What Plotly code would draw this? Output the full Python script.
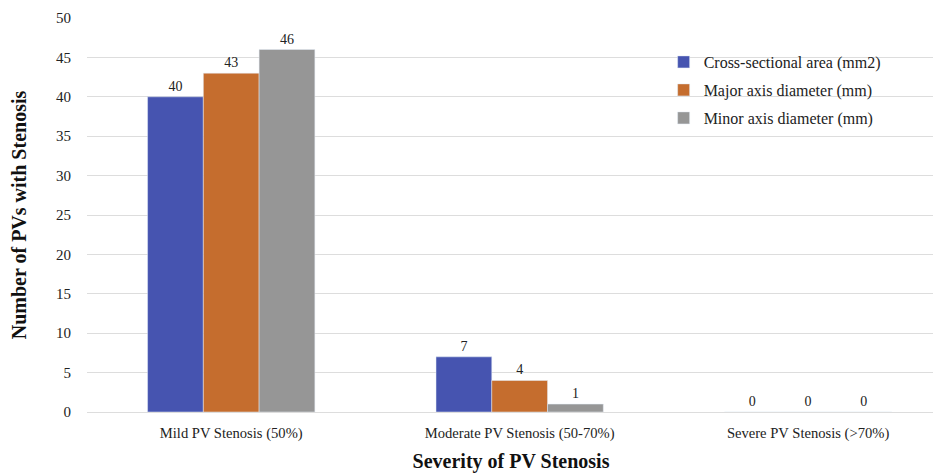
import plotly.graph_objects as go

categories = ["Mild PV Stenosis (50%)", "Moderate PV Stenosis (50-70%)", "Severe PV Stenosis (>70%)"]
series_names = ["Cross-sectional area (mm2)", "Major axis diameter (mm)", "Minor axis diameter (mm)"]
cross_sectional = [40, 7, 0]
major_axis = [43, 4, 0]
minor_axis = [46, 1, 0]
y_ticks = [0, 5, 10, 15, 20, 25, 30, 35, 40, 45, 50]

colors = ["#4654B0", "#C56D2E", "#969696"]
serif = "Liberation Serif, Times New Roman, serif"

fig = go.Figure()
legend_ids = ["legend", "legend2", "legend3"]
for name, vals, col, lg in zip(series_names, [cross_sectional, major_axis, minor_axis], colors, legend_ids):
    fig.add_trace(go.Bar(
        x=categories, y=vals, name=name, marker_color=col,
        text=[str(v) for v in vals], textposition="outside",
        textfont=dict(family=serif, size=14, color="#222"),
        cliponaxis=False, legend=lg, showlegend=True,
    ))

# page has 8px body margin; figure sized so plot area lands like the reference
W, H = 933, 467
L, R, T, B = 79, 6, 10, 63
ph = H - T - B

leg_common = dict(font=dict(family=serif, size=16, color="#222"), bgcolor="rgba(0,0,0,0)",
                  xanchor="left", yanchor="middle", itemwidth=30)
lx = 0.68
fig.update_layout(
    width=W, height=H,
    showlegend=True,
    margin=dict(l=L, r=R, t=T, b=B),
    paper_bgcolor="white", plot_bgcolor="white",
    barmode="group", bargap=0.42, bargroupgap=0,
    font=dict(family=serif, color="#222"),
    legend=dict(x=lx, y=(404 - 54) / ph, **leg_common),
    legend2=dict(x=lx, y=(404 - 82) / ph, **leg_common),
    legend3=dict(x=lx, y=(404 - 110) / ph, **leg_common),
    xaxis=dict(
        range=[-0.5, 2.44], showgrid=False, showline=False, ticks="",
        tickfont=dict(family=serif, size=14.6, color="#222"), ticklabelstandoff=10,
        title=dict(text="<b>Severity of PV Stenosis</b>", font=dict(family=serif, size=20, color="#111"), standoff=13),
        automargin=False,
    ),
    yaxis=dict(
        range=[0, 50], tickvals=y_ticks, showgrid=True, gridcolor="#DDDDDD", gridwidth=1,
        zeroline=True, zerolinecolor="#DDDDDD", zerolinewidth=1,
        tickfont=dict(family=serif, size=15, color="#222"), ticklabelstandoff=15,
        title=dict(text="<b>Number of PVs with Stenosis</b>", font=dict(family=serif, size=20, color="#111"), standoff=24),
        automargin=False,
    ),
)

fig.write_html("out.html")
